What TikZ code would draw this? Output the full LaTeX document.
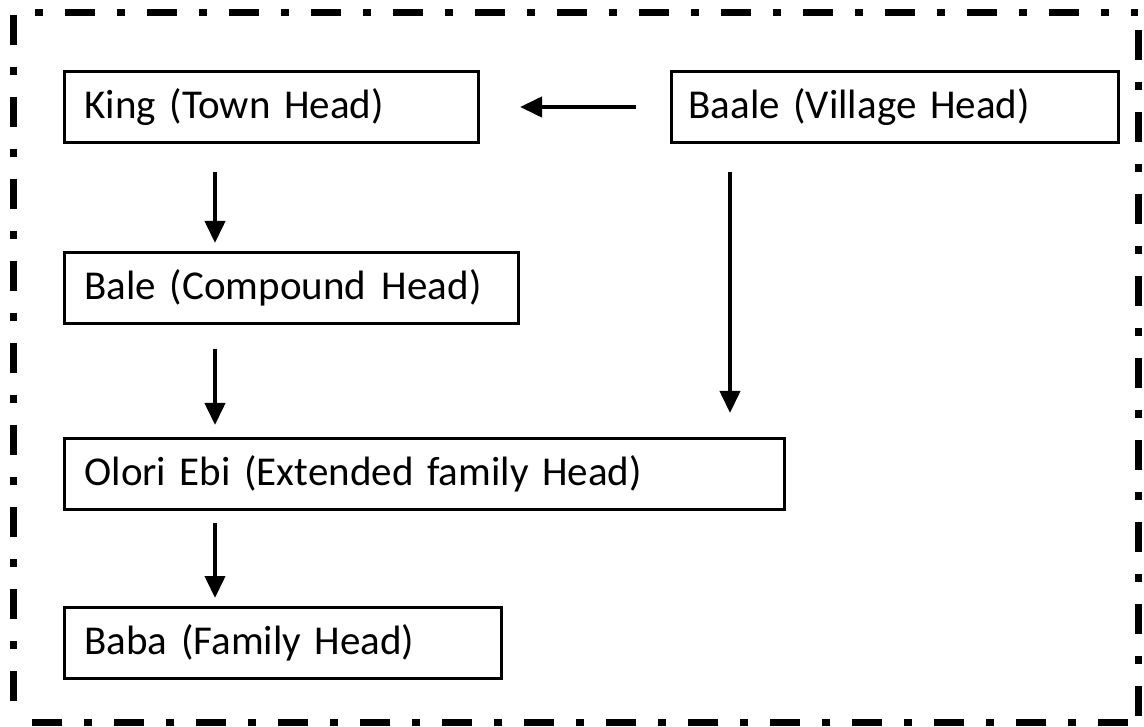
\documentclass[tikz,border=0pt]{standalone}
\usepackage{fontspec}
\setmainfont{Carlito}
\usetikzlibrary{arrows.meta}
\begin{document}
\begin{tikzpicture}[x=1pt,y=-1pt,
  headbox/.style={draw,line width=3pt,anchor=north west,minimum height=71pt,
    inner xsep=0pt,inner ysep=0pt,font=\fontsize{41}{48}\selectfont,align=left},
  arr/.style={line width=4pt,-{Triangle[width=20pt,length=22pt]}},
  frame/.style={line width=7pt,dash pattern=on 30pt off 22pt on 8pt off 22pt}]
\useasboundingbox (0,0) rectangle (1144,727);
% dash-dot frame, one side at a time
\draw[frame,dash phase=30pt] (13,13) -- (1138,13);
\draw[frame,dash phase=-2pt] (13,13) -- (13,722);
\draw[frame,dash phase=65pt] (1138,13) -- (1138,722);
\draw[frame,dash phase=63pt] (13,722) -- (1138,722);
% heads
\node[headbox,minimum width=414pt,text width=392pt] (king) at (63,70) {\hspace*{9pt}King (Town Head)};
\node[headbox,minimum width=447pt,text width=425pt] (baale) at (670,70) {\hspace*{6pt}Baale (Village Head)};
\node[headbox,minimum width=454pt,text width=432pt] (bale) at (63,251) {\hspace*{9pt}Bale (Compound\hspace{2pt} Head)};
\node[headbox,minimum width=720pt,text width=698pt] (olori) at (63,437) {\hspace*{9pt}Olori Ebi (Extended family Head)};
\node[headbox,minimum width=437pt,text width=415pt] (baba) at (63,606) {\hspace*{9pt}Baba (Family Head)};
% connectors
\coordinate (baaleout) at ([xshift=60pt]baale.south west);
\draw[arr,shorten <=34pt,shorten >=40pt] (baale.west) -- (king.east);
\draw[arr,shorten <=28pt,shorten >=8pt] ([xshift=152pt]king.south west) -- ([xshift=152pt]bale.north west);
\draw[arr,shorten <=24pt,shorten >=12pt] ([xshift=152pt]bale.south west) -- ([xshift=152pt]olori.north west);
\draw[arr,shorten <=12pt,shorten >=8pt] ([xshift=152pt]olori.south west) -- ([xshift=152pt]baba.north west);
\draw[arr,shorten <=28pt,shorten >=24pt] (baaleout) -- (olori.north -| baaleout);
\end{tikzpicture}
\end{document}
